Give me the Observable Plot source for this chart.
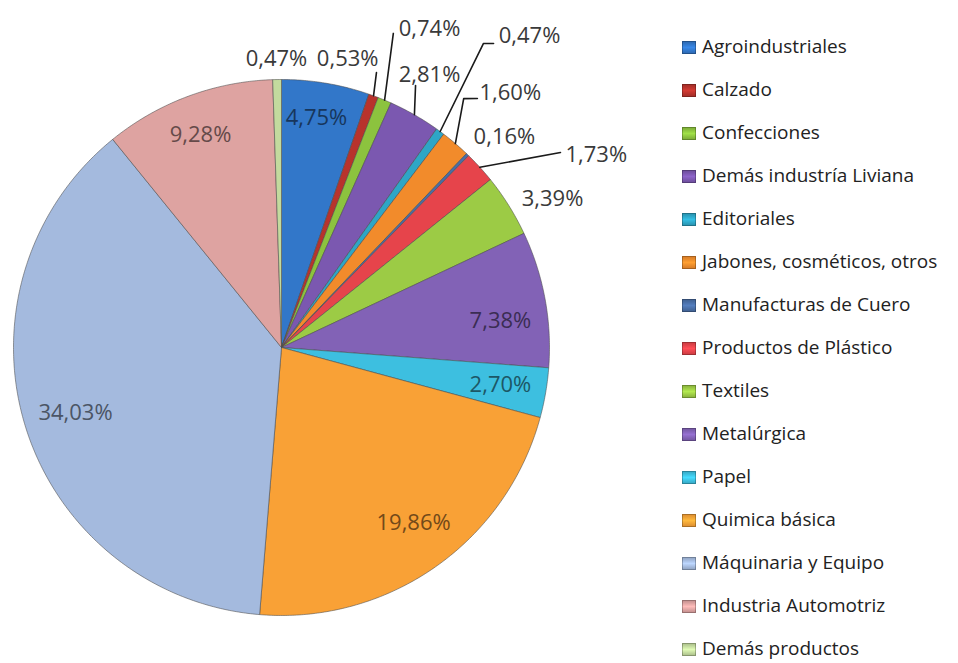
<!DOCTYPE html>
<html>
<head>
<meta charset="utf-8">
<script src="https://cdn.jsdelivr.net/npm/d3@7"></script>
<script src="https://cdn.jsdelivr.net/npm/@observablehq/plot@0.6"></script>
<style>
  html, body { margin: 0; padding: 0; background: #fff; }
  #wrap { position: relative; width: 958px; height: 663px; overflow: hidden; font-family: "Open Sans", "Noto Sans", sans-serif; }
  #chart { position: absolute; left: 0; top: 0; }
  #legend { position: absolute; left: 682px; top: 0; }
  .item { position: absolute; left: 0; white-space: nowrap; font-size: 19px; color: #222; line-height: 20px; height: 20px; }
  .sw { position: absolute; left: 0; width: 14px; height: 13px; border: 1px solid rgba(0,0,0,0.25); box-sizing: border-box; }
  .lbl { position: absolute; left: 20px; top: 0; }
</style>
</head>
<body>
<div id="wrap">
  <div id="chart"></div>
  <div id="legend"></div>
</div>
<script>
// ---- data ----
const categories = [
  "Agroindustriales", "Calzado", "Confecciones", "Demás industría Liviana",
  "Editoriales", "Jabones, cosméticos, otros", "Manufacturas de Cuero",
  "Productos de Plástico", "Textiles", "Metalúrgica", "Papel",
  "Quimica básica", "Máquinaria y Equipo", "Industria Automotriz", "Demás productos"
];
const values = [4.75, 0.53, 0.74, 2.81, 0.47, 1.60, 0.16, 1.73, 3.39, 7.38, 2.70, 19.86, 34.03, 9.28, 0.47];
const valueLabels = ["4,75%", "0,53%", "0,74%", "2,81%", "0,47%", "1,60%", "0,16%", "1,73%", "3,39%", "7,38%", "2,70%", "19,86%", "34,03%", "9,28%", "0,47%"];

// ---- style / layout ----
const colors = [
  "#3277c9", "#b8332c", "#8cc33e", "#7b58b0", "#2ea6c6", "#f28b2b", "#4a6ea6",
  "#e6444b", "#9ccb45", "#8262b6", "#3dbfe0", "#f9a136", "#a4bade", "#dea3a1", "#c3da9e"
];
// label placement in polar units: [radius (1 = pie edge), angle in degrees clockwise from 12 o'clock]
const labelPolar = [
  [0.868, 8.65], [1.106, 12.9], [1.312, 24.9], [1.156, 28.55], [1.487, 38.5],
  [1.276, 42.0], [1.143, 46.7], [1.376, 58.6], [1.154, 61.2], [0.823, 83.0],
  [0.829, 99.8], [0.821, 143.1], [0.806, 252.5], [0.847, 339.1], [1.078, 359.0]
];
const labelInside = [true, false, false, false, false, false, false, false, false, true, true, true, true, true, false];
// leader line bends/ends (polar), starting from the slice edge at its mid angle
const leaders = {
  1: [[1.085, 19.06]],
  2: [[1.244, 19.6]],
  3: [[1.098, 27.1]],
  4: [[1.362, 33.6], [1.383, 34.9]],
  5: [[1.151, 36.2], [1.182, 38.2]],
  7: [[1.270, 55.05]]
};

// ---- geometry ----
const total = d3.sum(values);
const rad = deg => deg * Math.PI / 180;
const pol = (r, deg) => ({x: r * Math.sin(rad(deg)), y: r * Math.cos(rad(deg))});

let acc = 0;
const slices = categories.map((name, i) => {
  const a0 = acc / total * 360;
  acc += values[i];
  const a1 = acc / total * 360;
  return {name, i, a0, a1, mid: (a0 + a1) / 2};
});

const polyPts = [];
for (const s of slices) {
  polyPts.push({name: s.name, ...pol(0, 0)});
  const n = Math.max(2, Math.ceil((s.a1 - s.a0) / 0.5));
  for (let k = 0; k <= n; k++) polyPts.push({name: s.name, ...pol(1, s.a0 + (s.a1 - s.a0) * k / n)});
  polyPts.push({name: s.name, ...pol(0, 0)});
}

const labels = slices.map(s => {
  const [r, a] = labelPolar[s.i];
  const c = d3.color(colors[s.i]);
  return {...pol(r, a), text: valueLabels[s.i], color: labelInside[s.i] ? c.darker(2.2).formatHex() : "#3a3a3a"};
});

const leaderPts = [];
for (const k of Object.keys(leaders)) {
  const s = slices[+k];
  leaderPts.push({id: k, ...pol(1.0, s.mid)});
  for (const [r, a] of leaders[k]) leaderPts.push({id: k, ...pol(r, a)});
}

const plot = Plot.plot({
  width: 640,
  height: 663,
  marginLeft: 13,
  marginRight: 91,
  marginTop: 79,
  marginBottom: 48,
  x: {domain: [-1, 1], axis: null},
  y: {domain: [-1, 1], axis: null},
  color: {domain: categories, range: colors},
  style: {background: "transparent", fontFamily: "Open Sans, Noto Sans, sans-serif"},
  marks: [
    Plot.line(polyPts, {x: "x", y: "y", z: "name", fill: "name", stroke: "#4a4a4a", strokeOpacity: 0.55, strokeWidth: 1, curve: "linear"}),
    Plot.line(leaderPts, {x: "x", y: "y", z: "id", stroke: "#1a1a1a", strokeWidth: 1.6, curve: "linear"}),
    Plot.text(labels, {x: "x", y: "y", text: "text", fill: "color", fontSize: 22, textAnchor: "middle"})
  ]
});
document.getElementById("chart").appendChild(plot);

// ---- legend ----
const legend = document.getElementById("legend");
categories.forEach((name, i) => {
  const center = 47 + 43 * i;
  const item = document.createElement("div");
  item.className = "item";
  item.style.top = (center - 11) + "px";
  const sw = document.createElement("div");
  sw.className = "sw";
  const c = d3.color(colors[i]);
  sw.style.background = `linear-gradient(180deg, ${c.darker(0.3)} 0%, ${c.brighter(0.4)} 50%, ${c.darker(0.3)} 100%)`;
  sw.style.top = "5px";
  const t = document.createElement("span");
  t.className = "lbl";
  t.textContent = name;
  item.appendChild(sw);
  item.appendChild(t);
  legend.appendChild(item);
});
</script>
</body>
</html>
